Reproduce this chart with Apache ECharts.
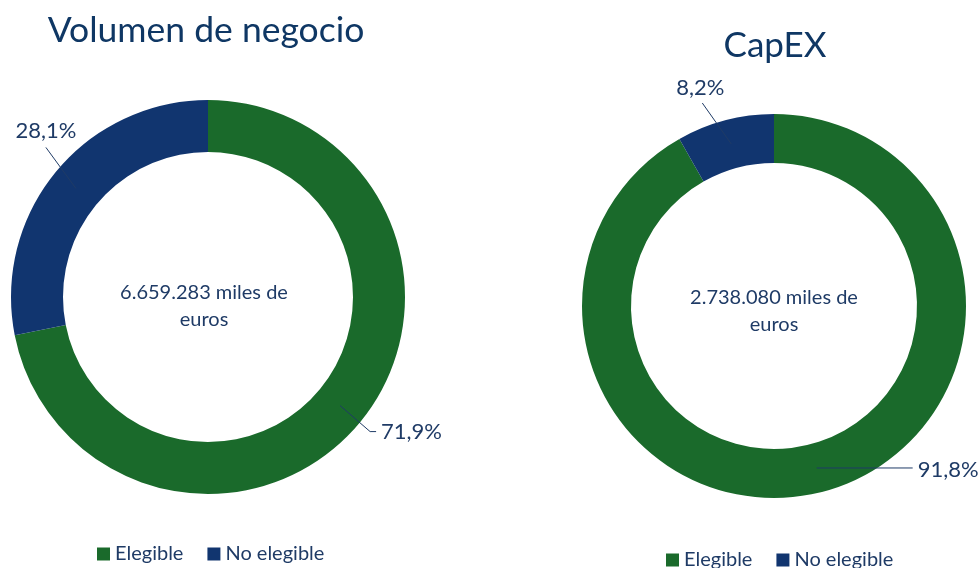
<!DOCTYPE html>
<html lang="es">
<head>
<meta charset="utf-8">
<title>Volumen de negocio y CapEX</title>
<script src="https://cdn.jsdelivr.net/npm/echarts@6/dist/echarts.min.js"></script>
<style>
  html, body { margin: 0; padding: 0; background: #ffffff; }
  #chart { width: 979px; height: 568px; }
</style>
</head>
<body>
<div id="chart"></div>
<script>
// ---- Data ----------------------------------------------------------------
const categories = ['Elegible', 'No elegible'];
const volumenShares = [71.9, 28.1];      // % del volumen de negocio
const capexShares = [91.8, 8.2];         // % del CapEX
const chartTitles = ['Volumen de negocio', 'CapEX'];
const totalsText = ['6.659.283 miles de\neuros', '2.738.080 miles de\neuros'];

// ---- Layout & style ------------------------------------------------------
const FONT = 'Lato, "Noto Sans", sans-serif';
const TEXT = '#1f3b66';
const TITLE = '#0f3764';
const COLORS = ['#1a6a2b', '#11356f'];

const CENTERS = [[208, 297], [774, 306]];
const RADII = [[145, 197], [143, 192]];

// Label leader geometry per slice: first bend (relative to ring middle),
// second bend (relative to first), label anchor (relative to last point).
const LEADERS = [
  [
    { p1: [30, 26], p2: [6, 0], lab: [5, 0], align: 'left' },
    { p1: [-30, -41], p2: [0, 0], lab: [0, -17], align: 'center' }
  ],
  [
    { p1: [96, 0], p2: [0, 0], lab: [5, 2], align: 'left' },
    { p1: [-29, -41], p2: [0, 0], lab: [-2, -15], align: 'center' }
  ]
];

function pct(v) {
  return v.toFixed(1).replace('.', ',') + '%';
}

function sliceData(values, colors) {
  return categories.map((name, i) => ({
    name: name,
    value: values[i],
    itemStyle: { color: colors ? colors[i] : 'rgba(0,0,0,0)' }
  }));
}

// Position each label from the slice mid-angle given by the pie layout.
function leaderLayout(s, values) {
  return function (p) {
    const [cx, cy] = CENTERS[s];
    const [r0, r1] = RADII[s];
    let ux, uy;
    if (p.labelLinePoints && p.labelLinePoints[0]) {
      const a = p.labelLinePoints[0];
      const d = Math.hypot(a[0] - cx, a[1] - cy) || 1;
      ux = (a[0] - cx) / d;
      uy = (a[1] - cy) / d;
    } else {
      const total = values.reduce((t, v) => t + v, 0);
      let before = 0;
      for (let k = 0; k < p.dataIndex; k++) before += values[k];
      const ang = (before + values[p.dataIndex] / 2) / total * Math.PI * 2;
      ux = Math.sin(ang);
      uy = -Math.cos(ang);
    }
    const rm = (r0 + r1) / 2;
    const start = [cx + ux * rm, cy + uy * rm];
    const g = LEADERS[s][p.dataIndex];
    const b1 = [start[0] + g.p1[0], start[1] + g.p1[1]];
    const b2 = [b1[0] + g.p2[0], b1[1] + g.p2[1]];
    return {
      x: b2[0] + g.lab[0],
      y: b2[1] + g.lab[1],
      align: g.align,
      verticalAlign: 'middle',
      labelLinePoints: [start, b1, b2]
    };
  };
}

const pieBase = (s) => ({
  type: 'pie',
  center: CENTERS[s],
  radius: RADII[s],
  startAngle: 90,
  clockwise: true,
  avoidLabelOverlap: false,
  silent: true,
  emphasis: { disabled: true },
  itemStyle: { borderWidth: 0 }
});

// Coloured ring.
function donut(s, values) {
  return Object.assign(pieBase(s), {
    z: 2,
    label: { show: false },
    labelLine: { show: false },
    data: sliceData(values, COLORS)
  });
}

// Transparent twin ring on top, carrying the percentage labels and leaders
// so the leader lines stay visible across the coloured band.
function donutLabels(s, values) {
  return Object.assign(pieBase(s), {
    z: 4,
    legendHoverLink: false,
    label: {
      show: true,
      position: 'outside',
      formatter: p => pct(p.value),
      fontFamily: FONT,
      fontSize: 22,
      color: TEXT
    },
    labelLine: {
      show: true,
      showAbove: true,
      length: 10,
      length2: 10,
      lineStyle: { color: TEXT, width: 1 }
    },
    labelLayout: leaderLayout(s, values),
    data: sliceData(values, null)
  });
}

function legend(left, top) {
  return {
    data: categories,
    left: left,
    top: top,
    orient: 'horizontal',
    icon: 'rect',
    itemWidth: 13,
    itemHeight: 13,
    itemGap: 24,
    padding: 0,
    selectedMode: false,
    textStyle: { fontFamily: FONT, fontSize: 20, color: TEXT }
  };
}

function label(x, y, text, size, color, lineHeight) {
  return {
    type: 'text',
    x: x,
    y: y,
    silent: true,
    style: {
      text: text,
      align: 'center',
      verticalAlign: 'middle',
      fontFamily: FONT,
      fontSize: size,
      lineHeight: lineHeight || size * 1.2,
      fill: color
    }
  };
}

const chart = echarts.init(document.getElementById('chart'), null, { renderer: 'canvas' });
chart.setOption({
  backgroundColor: '#ffffff',
  animation: false,
  legend: [legend(97, 544), legend(666, 550)],
  graphic: [
    label(206, 31, chartTitles[0], 35.5, TITLE),
    label(775, 46, chartTitles[1], 35, TITLE),
    label(204, 306, totalsText[0], 20, TEXT, 27),
    label(774, 311, totalsText[1], 20, TEXT, 27)
  ],
  series: [
    donut(0, volumenShares),
    donut(1, capexShares),
    donutLabels(0, volumenShares),
    donutLabels(1, capexShares)
  ]
});
</script>
</body>
</html>
